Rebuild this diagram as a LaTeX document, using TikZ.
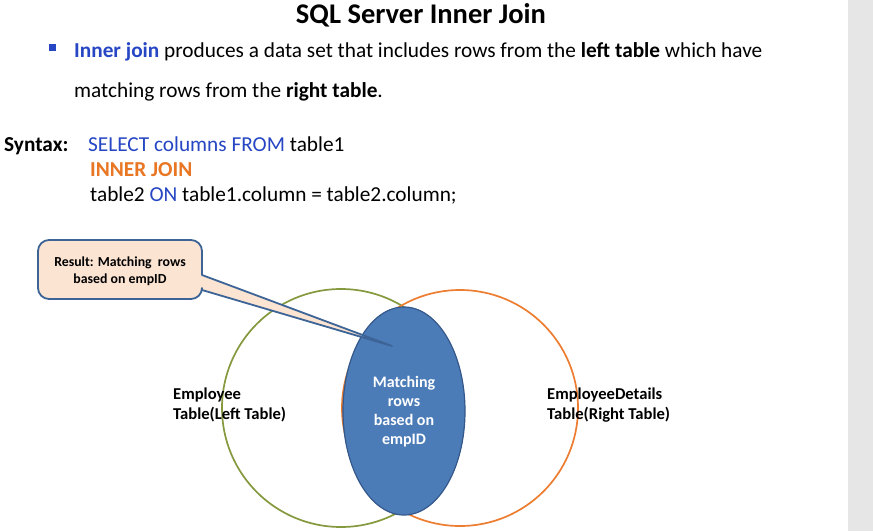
\documentclass[tikz,border=0pt]{standalone}
\usepackage{fontspec}
\setmainfont{Carlito}
\usetikzlibrary{calc,shapes.geometric}
\definecolor{kwblue}{RGB}{38,70,196}
\definecolor{kworange}{RGB}{232,118,34}
\definecolor{circgreen}{RGB}{133,153,62}
\definecolor{circorange}{RGB}{237,125,49}
\definecolor{ellfill}{RGB}{76,124,184}
\definecolor{ellline}{RGB}{52,88,138}
\definecolor{calfill}{RGB}{252,228,210}
\definecolor{calline}{RGB}{60,100,150}
\definecolor{sidegray}{RGB}{230,230,230}
\tikzset{
  txt/.style={inner sep=0pt, anchor=base west, font=\fontsize{21.3}{25}\selectfont},
  lbl/.style={inner sep=0pt, font=\bfseries\fontsize{16.6}{19.5}\selectfont, align=left},
  venn/.style={line width=1.7pt},
}
\begin{document}
\begin{tikzpicture}[x=1pt,y=1pt]
\useasboundingbox (0,0) rectangle (873,-531);
\fill[white] (0,0) rectangle (873,-531);
\fill[sidegray] (848,0) rectangle (873,-531);
% title
\node[inner sep=0pt, anchor=base, font=\bfseries\fontsize{28.5}{32}\selectfont] (title) at (421,-23) {SQL Server Inner Join};
% bullet
\fill[kwblue] (49,-44) rectangle (56,-51);
\node[txt] (l1) at (74,-57) {\textcolor{kwblue}{\bfseries Inner join} produces a data set that includes rows from the \textbf{left table} which have};
\node[txt] (l2) at (74,-97) {matching rows from the \textbf{right table}.};
% syntax
\node[txt, font=\bfseries\fontsize{21.3}{25}\selectfont] (syn) at (4,-151) {Syntax:};
\node[txt] (s1) at (88,-151) {\textcolor{kwblue}{SELECT columns FROM} table1};
\node[txt, font=\bfseries\fontsize{21.3}{25}\selectfont, text=kworange] (s2) at (90,-176) {INNER JOIN};
\node[txt] (s3) at (90,-201) {table2 \textcolor{kwblue}{ON} table1.column = table2.column;};
% venn
\node[circle, draw=circgreen, venn, minimum size=238pt, inner sep=0pt] (left) at (341,-408) {};
\node[circle, draw=circorange, venn, minimum size=236pt, inner sep=0pt] (right) at (460,-408) {};
\node[ellipse, fill=ellfill, draw=ellline, line width=1.2pt, minimum width=122pt, minimum height=208pt, inner sep=0pt] (match) at (404,-411) {};
\node[inner sep=0pt, font=\bfseries\fontsize{16}{19}\selectfont, align=center, text=white, anchor=base] (mtxt) at (404,-444) {Matching\\rows\\based on\\empID};
\node[lbl, anchor=base west] (emp) at (173,-419) {Employee\\Table(Left Table)};
\node[lbl, anchor=base west] (empd) at (547,-419) {EmployeeDetails\\Table(Right Table)};
% callout
\coordinate (tip) at (392,-346);
\filldraw[fill=calfill, draw=calline, line width=1.8pt, line join=round]
  (49,-240) -- (191,-240) arc[start angle=90, end angle=0, radius=11] -- (202,-275) -- (tip) -- (202,-290)
  -- (202,-288) arc[start angle=0, end angle=-90, radius=11] -- (49,-299) arc[start angle=270, end angle=180, radius=11]
  -- (38,-251) arc[start angle=180, end angle=90, radius=11] -- cycle;
\node[inner sep=0pt, align=center, font=\bfseries\fontsize{13.8}{17}\selectfont, anchor=base] (result) at (120,-283) {Result: Matching~ rows\\based on empID};
\end{tikzpicture}
\end{document}
